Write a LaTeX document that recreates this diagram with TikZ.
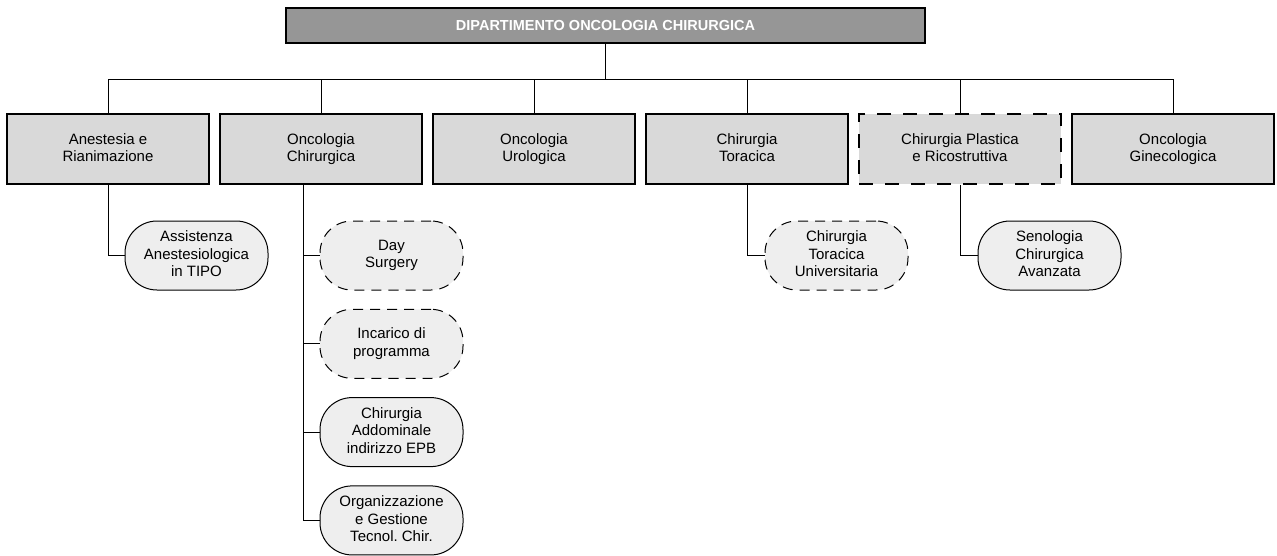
\documentclass[tikz,border=0pt]{standalone}
\usepackage{fontspec}
\setmainfont{Liberation Sans}
\usetikzlibrary{calc, positioning}
\definecolor{headgray}{RGB}{150,150,150}
\definecolor{unitgray}{RGB}{217,217,217}
\definecolor{subgray}{RGB}{238,238,238}
\newcommand\linestrut{\rule[-3.2pt]{0pt}{16.8pt}}
\newcommand\branch[2]{
    \draw [link] (#1) |- (#2);
}
\tikzstyle{department}  = [rectangle,draw=black,fill=headgray,line width=1.3pt,minimum width=639pt,minimum height=35pt,text=white,font=\fontsize{14.5}{17}\selectfont\bfseries]
\tikzstyle{unit}        = [rectangle,draw=black,fill=unitgray,line width=1.3pt,minimum width=202pt,minimum height=70pt,align=center,font=\fontsize{15}{17.5}\selectfont,execute at begin node=\linestrut,execute at end node=\linestrut]
\tikzstyle{subunit}     = [rectangle,rounded corners=32pt,draw=black,fill=subgray,line width=1pt,minimum width=143pt,minimum height=69pt,inner sep=0pt,align=center,font=\fontsize{15}{17.5}\selectfont,execute at begin node=\linestrut,execute at end node=\linestrut]
\tikzstyle{provisional} = [dash pattern=on 14pt off 12pt]
\tikzstyle{tentative}   = [dash pattern=on 10pt off 7pt]
\tikzstyle{link}        = [line width=0.9pt]

\begin{document}
\begin{tikzpicture}[x=1pt,y=1pt]
        \useasboundingbox (0,0) rectangle (1277,-555);

        \node[department]          (dept)     at (605.5,-25.5)                {DIPARTIMENTO ONCOLOGIA CHIRURGICA};
        \node[unit]                (anest)    at (108,-149)                   {Anestesia e\\Rianimazione};
        \node[unit]                (oncochir) at ($(anest)+(213,0)$)          {Oncologia\\Chirurgica};
        \node[unit]                (urolog)   at ($(oncochir)+(213,0)$)       {Oncologia\\Urologica};
        \node[unit]                (torac)    at ($(urolog)+(213,0)$)         {Chirurgia\\Toracica};
        \node[unit,provisional]    (plast)    at ($(torac)+(213,0)$)          {Chirurgia Plastica\\e Ricostruttiva};
        \node[unit]                (ginec)    at ($(plast)+(213,0)$)          {Oncologia\\Ginecologica};

        \node[subunit]             (assist)   at ($(anest)+(88.5,-106.5)$)    {Assistenza\\Anestesiologica\\in TIPO};
        \node[subunit,tentative]   (day)      at ($(oncochir)+(70.5,-106.5)$) {Day\\Surgery};
        \node[subunit,tentative]   (incarico) at ($(day)+(0,-88.3)$)          {Incarico di\\programma};
        \node[subunit]             (addom)    at ($(incarico)+(0,-88.3)$)     {Chirurgia\\Addominale\\indirizzo EPB};
        \node[subunit]             (organ)    at ($(addom)+(0,-88.3)$)        {Organizzazione\\e Gestione\\Tecnol.\ Chir.};
        \node[subunit,tentative]   (toruniv)  at ($(torac)+(89.5,-106.5)$)    {Chirurgia\\Toracica\\Universitaria};
        \node[subunit]             (senolog)  at ($(plast)+(89.5,-106.5)$)    {Senologia\\Chirurgica\\Avanzata};

        \coordinate (bus)   at ($(dept.south)+(0,-36)$);
        \coordinate (spine) at ($(oncochir.south)+(-18,0)$);

        \draw[link] (dept.south) -- (bus);
        \draw[link] (anest.north) |- (bus) -| (ginec.north);
        \branch{oncochir.north}{bus}
        \branch{urolog.north}{bus}
        \branch{torac.north}{bus}
        \branch{plast.north}{bus}

        \branch{anest.south}{assist.west}
        \branch{spine}{day.west}
        \branch{spine}{incarico.west}
        \branch{spine}{addom.west}
        \branch{spine}{organ.west}
        \branch{torac.south}{toruniv.west}
        \branch{plast.south}{senolog.west}
    \end{tikzpicture}
\end{document}
